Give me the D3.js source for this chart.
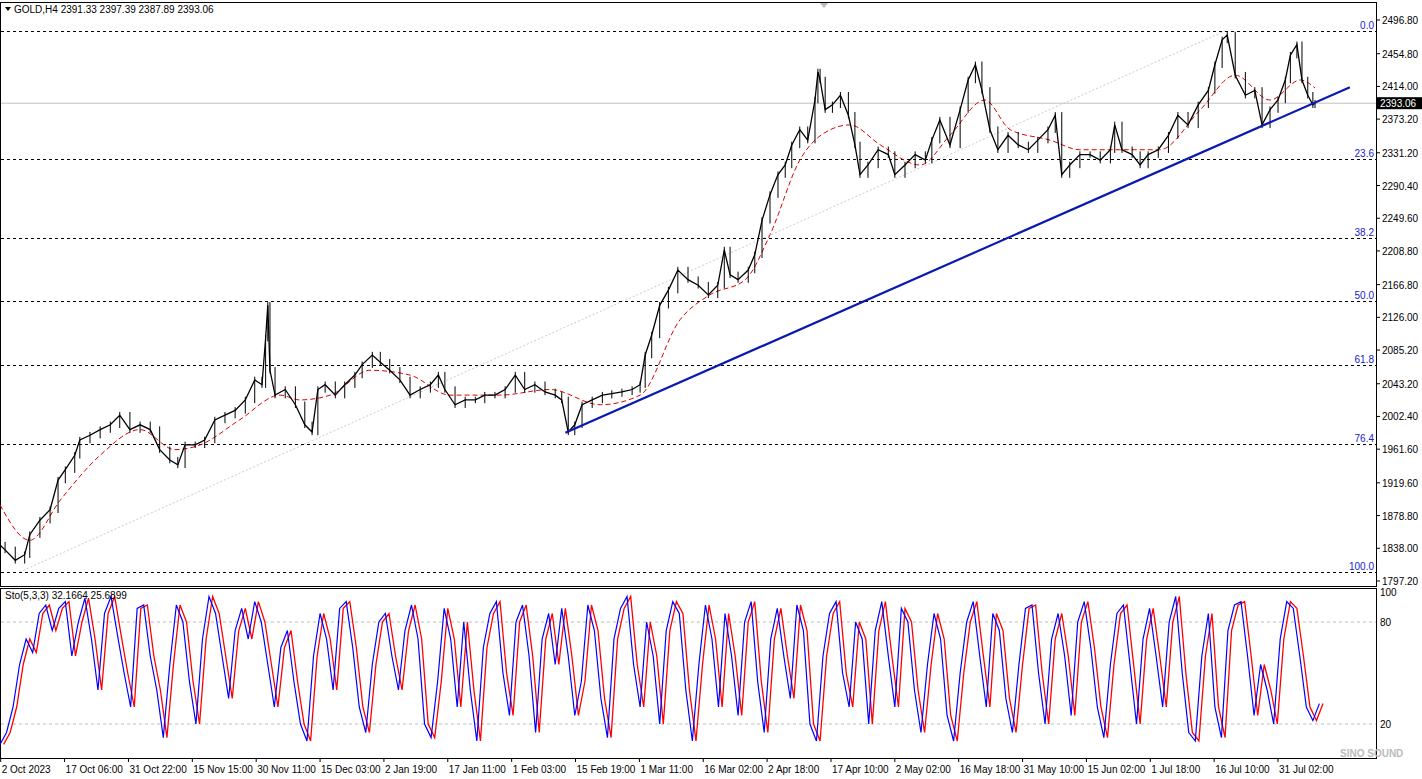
<!DOCTYPE html><html><head><meta charset="utf-8">
<script src="https://cdn.jsdelivr.net/npm/d3@7"></script>
<style>body{margin:0;background:#fff}svg{display:block}text{font-family:"Liberation Sans","DejaVu Sans",sans-serif;font-size:10px}</style></head><body>
<script>
const priceBars=[0,7,21,34,41,55,69,80,90,103,110,124,138,152,165,179,193,207,220,234,245,255,269,282,296,310,324,338,351,361,366,369,372,379,393,407,420,430,438,448,462,475,489,499,513,524,537,551,565,579,593,604,613,627,641,655,668,682,696,710,723,737,751,765,774,783,792,802,816,830,843,857,871,882,889,898,909,921,934,948,962,976,989,998,1006,1017,1031,1040,1050,1061,1072,1082,1091,1102,1113,1123,1127,1130,1137,1147,1158,1169,1178,1185,1196,1210,1224,1233,1247,1261,1275,1284,1295,1309,1323,1334,1344,1353,1364,1375,1389,1403,1417,1430,1444,1454,1463,1474,1488,1502,1516,1530,1536,1546,1560,1571,1582,1596,1610,1623,1637,1651,1665,1674,1684,1691,1702,1716,1729,1739,1750,1761,1771,1778,1787,1794,1802,1809,1812];
const closes=[1842,1836,1823,1830,1855,1873,1886,1923,1936,1954,1973,1979,1986,1992,2004,1986,1992,1986,1961,1948,1942,1967,1967,1973,1998,2004,2010,2023,2048,2042,2100,2141,2060,2029,2036,2017,1992,1983,2036,2042,2029,2042,2054,2067,2079,2070,2060,2048,2029,2036,2042,2054,2036,2017,2023,2023,2029,2029,2036,2054,2036,2042,2033,2029,2023,1983,1992,2017,2023,2029,2031,2033,2036,2042,2079,2104,2141,2160,2185,2173,2166,2154,2166,2210,2179,2173,2185,2204,2247,2279,2304,2316,2341,2360,2347,2397,2432,2422,2385,2391,2403,2378,2341,2304,2316,2335,2329,2304,2316,2329,2322,2347,2372,2341,2385,2422,2441,2409,2360,2335,2353,2341,2335,2347,2360,2378,2304,2316,2329,2329,2322,2335,2366,2335,2329,2316,2329,2335,2353,2378,2366,2391,2409,2441,2472,2478,2428,2403,2409,2366,2385,2397,2422,2453,2466,2422,2403,2391,2393];
const maBars=[0,41,83,138,193,241,276,330,386,413,455,510,565,620,689,758,827,882,937,978,1027,1061,1102,1144,1171,1213,1268,1309,1357,1392,1447,1488,1543,1598,1654,1702,1750,1792,1812];
const maVals=[1892,1848,1898,1954,1986,1961,1967,1998,2029,2023,2029,2060,2054,2029,2029,2036,2017,2029,2123,2154,2173,2229,2322,2360,2366,2341,2316,2353,2397,2360,2347,2335,2335,2335,2385,2428,2397,2422,2412];
const fibPct=[0,23.6,38.2,50,61.8,76.4,100];
const fibHigh=2483.2, fibLow=1808.4;
const trend=[[779,1982],[1860,2413]];
const priceTicks=[2496.8,2454.8,2414.0,2373.2,2331.2,2290.4,2249.6,2208.8,2166.8,2126.0,2085.2,2043.2,2002.4,1961.6,1919.6,1878.8,1838.0,1797.2];
const dateLabels=["2 Oct 2023","17 Oct 06:00","31 Oct 22:00","15 Nov 15:00","30 Nov 11:00","15 Dec 03:00","2 Jan 19:00","17 Jan 11:00","1 Feb 03:00","15 Feb 19:00","1 Mar 11:00","16 Mar 02:00","2 Apr 18:00","17 Apr 10:00","2 May 02:00","16 May 18:00","31 May 10:00","15 Jun 02:00","1 Jul 18:00","16 Jul 10:00","31 Jul 02:00"];
const dateBars=dateLabels.map((d,i)=>1+88*i);
const stochK=[8,15,30,55,70,62,85,90,75,88,92,60,80,94,70,40,85,95,72,50,30,88,90,60,40,12,55,90,80,45,20,70,95,85,60,35,75,88,70,92,80,55,30,65,75,45,20,10,60,85,70,40,88,92,65,30,15,55,80,85,60,40,75,90,70,20,12,45,88,70,30,80,40,10,65,85,92,50,25,80,90,60,15,70,85,55,88,60,25,45,90,75,35,12,70,88,95,55,30,80,60,20,75,92,85,40,10,55,90,70,30,85,60,25,80,92,45,15,70,88,60,35,90,75,20,10,60,85,92,50,30,80,70,20,75,92,60,30,88,80,40,15,55,85,70,25,10,50,80,92,60,30,85,75,35,15,55,88,90,50,20,70,85,60,25,80,92,65,30,12,55,85,90,55,20,70,88,60,30,80,95,50,15,10,60,85,30,12,75,90,92,60,25,55,40,20,70,92,88,60,30,22,32];
const stochBars=stochK.map((v,i)=>i*9);

const W=1422,H=779,axX=1376;
const svg=d3.select("body").append("svg").attr("width",W).attr("height",H);
const x=d3.scaleLinear().domain([0,1896]).range([0,axX]);
const y=d3.scaleLinear().domain([1797.2,2496.8]).range([581,20]);
const ys=d3.scaleLinear().domain([0,100]).range([758,588]);

svg.append("rect").attr("x",0.5).attr("y",2.5).attr("width",axX).attr("height",584).attr("fill","none").attr("stroke","#000");
svg.append("rect").attr("x",0.5).attr("y",588.5).attr("width",axX).attr("height",170).attr("fill","none").attr("stroke","#000");
svg.append("path").attr("d","M820,3 L828,3 L824,8Z").attr("fill","#bbb");

svg.append("line").attr("x1",x(27)).attr("y1",y(fibLow)).attr("x2",x(1688)).attr("y2",y(fibHigh)).attr("stroke","#ccc").attr("stroke-dasharray","2,2");
fibPct.forEach(p=>{const v=fibHigh-(fibHigh-fibLow)*p/100,yy=Math.round(y(v))+.5;
 svg.append("line").attr("x1",1).attr("x2",axX).attr("y1",yy).attr("y2",yy).attr("stroke","#000").attr("stroke-dasharray","3,3");
 svg.append("text").attr("x",axX-2).attr("y",yy-3).attr("text-anchor","end").attr("fill","#2020d0").attr("font-size","9px").text(p.toFixed(1));});
svg.append("line").attr("x1",1).attr("x2",axX).attr("y1",y(2393.06)).attr("y2",y(2393.06)).attr("stroke","#c0c0c0");
svg.append("path").datum(maBars.map((b,i)=>[b,maVals[i]])).attr("d",d3.line().curve(d3.curveMonotoneX).x(d=>x(d[0])).y(d=>y(d[1]))).attr("fill","none").attr("stroke","#e00000").attr("stroke-dasharray","5,3").attr("stroke-width",1);
const g=svg.append("g");
closes.forEach((c,i)=>{if(!i)return;const o=closes[i-1];const hi=Math.max(o,c)+4,lo=Math.min(o,c)-4;
 g.append("line").attr("x1",x(priceBars[i])).attr("x2",x(priceBars[i])).attr("y1",y(hi)).attr("y2",y(lo)).attr("stroke","#000");});
g.append("path").datum(priceBars.map((b,i)=>[b,closes[i]])).attr("d",d3.line().x(d=>x(d[0])).y(d=>y(d[1]))).attr("fill","none").attr("stroke","#000").attr("stroke-width",1.3);
svg.append("line").attr("x1",x(trend[0][0])).attr("y1",y(trend[0][1])).attr("x2",x(trend[1][0])).attr("y2",y(trend[1][1])).attr("stroke","#0a1ab0").attr("stroke-width",2.2);

priceTicks.forEach(v=>{const yy=y(v);svg.append("line").attr("x1",axX).attr("x2",axX+4).attr("y1",yy).attr("y2",yy).attr("stroke","#000");
 svg.append("text").attr("x",axX+6).attr("y",yy+4).attr("font-size","9.5px").text(v.toFixed(2));});
svg.append("rect").attr("x",axX+1).attr("y",y(2393.06)-6).attr("width",45).attr("height",12).attr("fill","#000");
svg.append("text").attr("x",axX+4).attr("y",y(2393.06)+4).attr("fill","#fff").attr("font-size","9.5px").text("2393.06");

[80,20].forEach(v=>{svg.append("line").attr("x1",1).attr("x2",axX).attr("y1",ys(v)).attr("y2",ys(v)).attr("stroke","#bbb").attr("stroke-dasharray","3,3");});
[100,80,20].forEach(v=>svg.append("text").attr("x",axX+4).attr("y",ys(v)+(v==100?8:4)).attr("font-size","9.5px").text(v));
const sl=d3.line().x(d=>x(d[0])).y(d=>ys(d[1]));
svg.append("path").datum(stochBars.map((b,i)=>[b+5,stochK[i]])).attr("d",sl).attr("fill","none").attr("stroke","#ff0000").attr("stroke-width",1.3);
svg.append("path").datum(stochBars.map((b,i)=>[b,stochK[i]])).attr("d",sl).attr("fill","none").attr("stroke","#0000ff").attr("stroke-width",1.2);
svg.append("text").attr("x",5).attr("y",599).attr("font-size","9.5px").text("Sto(5,3,3) 32.1664 25.6899");

dateBars.forEach((b,i)=>{const xx=x(b);svg.append("line").attr("x1",xx).attr("x2",xx).attr("y1",758).attr("y2",762).attr("stroke","#000");
 svg.append("text").attr("x",xx+1).attr("y",773).attr("font-size","9px").text(dateLabels[i]);});

svg.append("path").attr("d","M5,7 L11,7 L8,11Z").attr("fill","#000");
svg.append("text").attr("x",14).attr("y",13).attr("font-size","9.5px").text("GOLD,H4  2391.33 2397.39 2387.89 2393.06");
svg.append("text").attr("x",1340).attr("y",757).attr("font-size","8px").attr("font-weight","bold").attr("fill","#bbb").text("SINO SOUND");
</script></body></html>
